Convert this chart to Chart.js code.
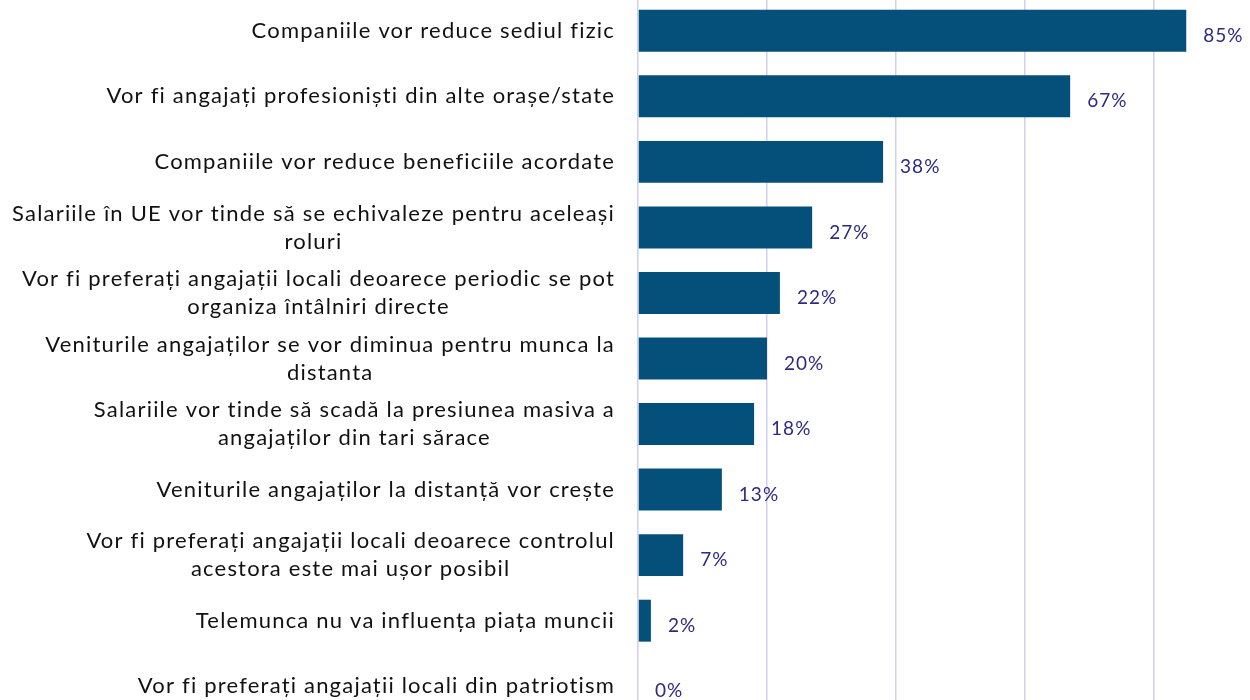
<!DOCTYPE html>
<html>
<head>
<meta charset="utf-8">
<script src="https://cdn.jsdelivr.net/npm/chart.js@4.4.1/dist/chart.umd.min.js"></script>
<style>
    html, body { margin: 0; padding: 0; background: #fff; overflow: hidden; }
    #wrap { position: absolute; left: 0; top: -2px; width: 1300px; height: 721px; }
</style>
</head>
<body>
<div id="wrap"><canvas id="chart" width="1300" height="721"></canvas></div>
<script>
const categories = [
    ['Companiile vor reduce sediul fizic'],
    ['Vor fi angajați profesioniști din alte orașe/state'],
    ['Companiile vor reduce beneficiile acordate'],
    ['Salariile în UE vor tinde să se echivaleze pentru aceleași', 'roluri'],
    ['Vor fi preferați angajații locali deoarece periodic se pot', 'organiza întâlniri directe'],
    ['Veniturile angajaților se vor diminua pentru munca la', 'distanta'],
    ['Salariile vor tinde să scadă la presiunea masiva a', 'angajaților din tari sărace'],
    ['Veniturile angajaților la distanță vor crește'],
    ['Vor fi preferați angajații locali deoarece controlul', 'acestora este mai ușor posibil'],
    ['Telemunca nu va influența piața muncii'],
    ['Vor fi preferați angajații locali din patriotism']
];
const values = [85, 67, 38, 27, 22, 20, 18, 13, 7, 2, 0];
const xTicks = [0, 20, 40, 60, 80, 100];

const barColor = '#04507A';
const valueColor = '#2E2A82';
const gridColor = '#D2CEF0';

// category labels: lines centred on each other, block right-aligned to the axis
const categoryLabels = {
    id: 'categoryLabels',
    afterDraw(chart) {
        const ctx = chart.ctx;
        const y = chart.scales.y;
        const right = chart.chartArea.left - 23;
        const lineH = 28;
        ctx.save();
        ctx.font = '22px Lato';
        ctx.letterSpacing = '1.2px';
        ctx.fillStyle = '#111';
        ctx.textBaseline = 'middle';
        ctx.textAlign = 'center';
        categories.forEach((lines, i) => {
            const cy = y.getPixelForTick(i);
            const widest = Math.max(...lines.map(l => ctx.measureText(l).width));
            const cx = right - widest / 2;
            const top = cy - (lines.length - 1) * lineH / 2;
            lines.forEach((l, j) => ctx.fillText(l, cx, top + j * lineH));
        });
        ctx.restore();
    }
};

const valueLabels = {
    id: 'valueLabels',
    afterDatasetsDraw(chart) {
        const ctx = chart.ctx;
        const meta = chart.getDatasetMeta(0);
        ctx.save();
        ctx.font = '19px Lato';
        ctx.letterSpacing = '1px';
        ctx.fillStyle = valueColor;
        ctx.textBaseline = 'middle';
        ctx.textAlign = 'left';
        meta.data.forEach((bar, i) => {
            ctx.fillText(values[i] + '%', bar.x + 17, bar.y + 5);
        });
        ctx.restore();
    }
};

new Chart(document.getElementById('chart').getContext('2d'), {
    type: 'bar',
    data: {
        labels: categories,
        datasets: [{
            data: values,
            backgroundColor: barColor,
            barPercentage: 0.64,
            categoryPercentage: 1
        }]
    },
    options: {
        indexAxis: 'y',
        responsive: false,
        animation: false,
        layout: { padding: { left: 638, right: 17, top: 0, bottom: 0 } },
        plugins: { legend: { display: false }, tooltip: { enabled: false } },
        scales: {
            x: {
                min: xTicks[0],
                max: xTicks[xTicks.length - 1],
                afterBuildTicks: scale => { scale.ticks = xTicks.map(v => ({ value: v })); },
                ticks: { display: false },
                grid: { color: gridColor, lineWidth: 1.5, drawTicks: false },
                border: { display: false }
            },
            y: { display: false }
        }
    },
    plugins: [categoryLabels, valueLabels]
});
</script>
</body>
</html>
